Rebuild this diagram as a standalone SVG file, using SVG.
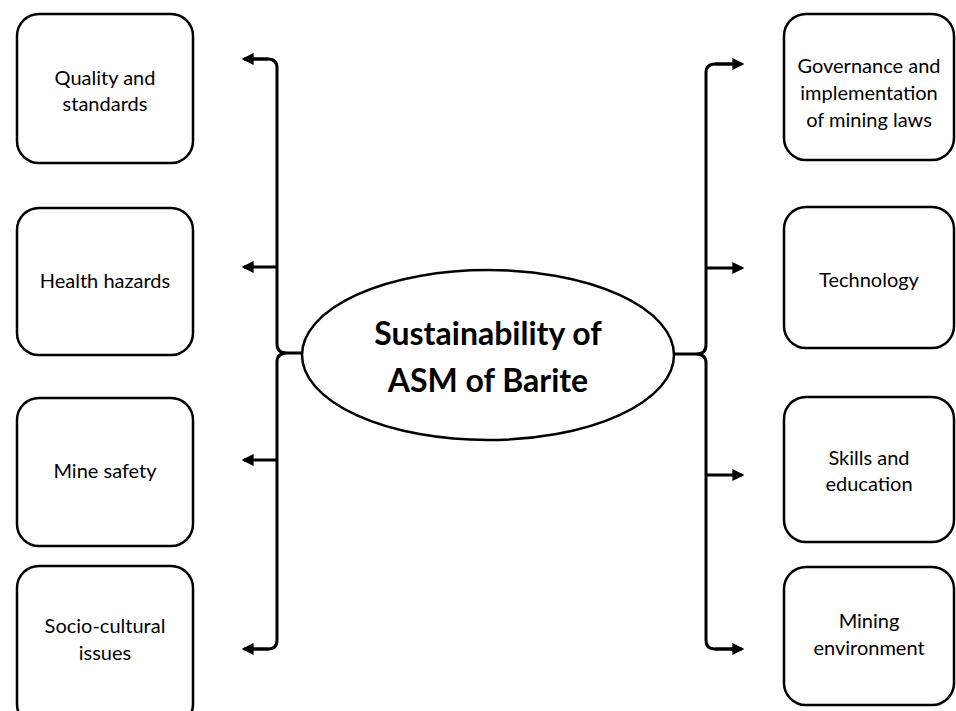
<svg xmlns="http://www.w3.org/2000/svg" width="956" height="711" viewBox="0 0 956 711">
<defs>
<style>
.box{fill:#fff;stroke:#000;stroke-width:2.5}
.lbl{font-family:Lato,"Open Sans","Liberation Sans",sans-serif;font-size:20px;fill:#000;text-anchor:middle}
.title{font-family:Lato,"Open Sans","Liberation Sans",sans-serif;font-size:32px;font-weight:bold;fill:#000;text-anchor:middle}
.con{fill:none;stroke:#000;stroke-width:3;stroke-linejoin:round}
</style>
<marker id="ah" viewBox="0 0 10 10" refX="8" refY="5" markerWidth="4" markerHeight="4" orient="auto-start-reverse" markerUnits="strokeWidth">
<path d="M0,0 L10,5 L0,10 z" fill="#000"/>
</marker>
</defs>
<rect width="956" height="711" fill="#fff"/>
<g id="connectors">
<path class="con" d="M246,59 L268,59 Q277,59 277,68 L277,344 Q277,353 287,353 L302,353 M287,353 Q277,353 277,362 L277,640 Q277,649 268,649 L246,649" />
<path class="con" d="M268,59 L244,59" marker-end="url(#ah)"/>
<path class="con" d="M268,649 L244,649" marker-end="url(#ah)"/>
<path class="con" d="M277,267 L244,267" marker-end="url(#ah)"/>
<path class="con" d="M277,460 L244,460" marker-end="url(#ah)"/>
<path class="con" d="M673,354 L696,354 Q706,354 706,345 L706,73 Q706,64 715,64 L740,64 M696,354 Q706,354 706,363 L706,640 Q706,649 715,649 L740,649"/>
<path class="con" d="M715,64 L742,64" marker-end="url(#ah)"/>
<path class="con" d="M715,649 L742,649" marker-end="url(#ah)"/>
<path class="con" d="M706,268 L742,268" marker-end="url(#ah)"/>
<path class="con" d="M706,475 L742,475" marker-end="url(#ah)"/>
</g>
<g id="center">
<ellipse cx="488" cy="355" rx="186" ry="85" fill="#fff" stroke="#000" stroke-width="2.5"/>
<text class="title" x="488" y="345">Sustainability of</text>
<text class="title" x="488" y="392">ASM of Barite</text>
</g>
<g id="quality">
<rect class="box" x="17" y="14" width="176" height="149" rx="22"/>
<text class="lbl" x="105" y="85">Quality and</text>
<text class="lbl" x="105" y="111">standards</text>
</g>
<g id="health">
<rect class="box" x="17" y="208" width="176" height="147" rx="22"/>
<text class="lbl" x="105" y="288">Health hazards</text>
</g>
<g id="safety">
<rect class="box" x="17" y="398" width="176" height="148" rx="22"/>
<text class="lbl" x="105" y="478">Mine safety</text>
</g>
<g id="socio">
<rect class="box" x="17" y="566" width="176" height="160" rx="22"/>
<text class="lbl" x="105" y="633">Socio-cultural</text>
<text class="lbl" x="105" y="660">issues</text>
</g>
<g id="governance">
<rect class="box" x="784" y="14" width="170" height="146" rx="22"/>
<text class="lbl" x="869" y="73">Governance and</text>
<text class="lbl" x="869" y="100">implementation</text>
<text class="lbl" x="869" y="127">of mining laws</text>
</g>
<g id="technology">
<rect class="box" x="784" y="207" width="170" height="141" rx="22"/>
<text class="lbl" x="869" y="287">Technology</text>
</g>
<g id="skills">
<rect class="box" x="784" y="397" width="170" height="145" rx="22"/>
<text class="lbl" x="869" y="465">Skills and</text>
<text class="lbl" x="869" y="491">education</text>
</g>
<g id="environment">
<rect class="box" x="784" y="567" width="170" height="138" rx="22"/>
<text class="lbl" x="869" y="628">Mining</text>
<text class="lbl" x="869" y="655">environment</text>
</g>
</svg>
